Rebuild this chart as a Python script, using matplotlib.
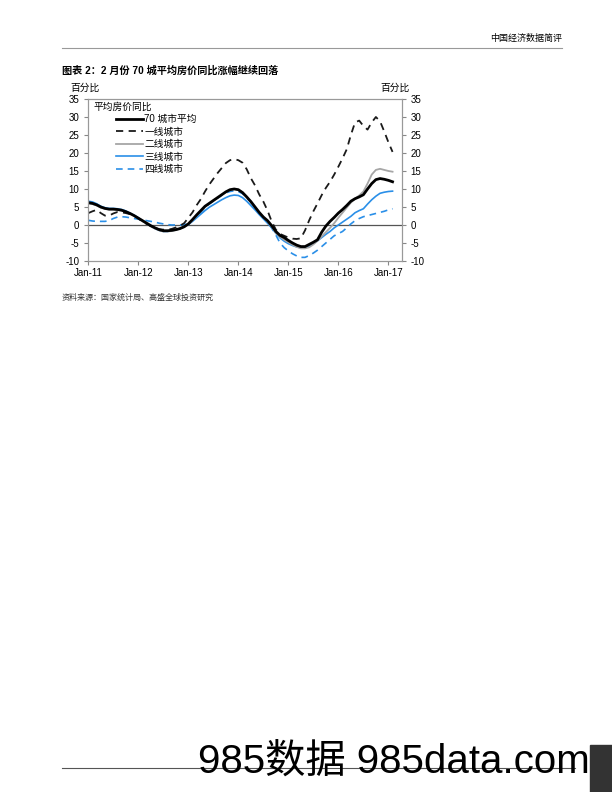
import matplotlib
matplotlib.use("Agg")
import matplotlib.pyplot as plt
import numpy as np

plt.rcParams['font.family'] = ['Liberation Sans', 'Noto Sans CJK SC', 'DejaVu Sans']
plt.rcParams['axes.unicode_minus'] = False

# monthly data, Jan-11 .. Feb-17 (YoY %)
avg70 = [6.2, 6.0, 5.6, 5.0, 4.6, 4.4, 4.4, 4.3, 4.1, 3.7, 3.2, 2.6,
         1.9, 1.2, 0.5, -0.2, -0.8, -1.3, -1.6, -1.6, -1.5, -1.3, -1.0, -0.5,
         0.3, 1.5, 2.8, 4.0, 5.2, 6.0, 6.8, 7.6, 8.4, 9.2, 9.8, 10.0,
         9.8, 9.0, 7.8, 6.5, 5.0, 3.5, 2.2, 1.2, -0.2, -1.8, -2.9, -3.5,
         -4.3, -5.0, -5.6, -6.0, -6.0, -5.4, -4.8, -4.1, -2.0, -0.3, 1.0, 2.1,
         3.3, 4.3, 5.4, 6.6, 7.3, 7.8, 8.4, 10.0, 11.5, 12.6, 12.9, 12.7,
         12.4, 12.0]
tier1 = [3.3, 3.8, 4.2, 3.3, 2.6, 2.6, 3.2, 3.6, 3.5, 3.3, 3.0, 2.6,
         1.8, 1.0, 0.3, -0.3, -0.8, -1.2, -1.3, -1.3, -1.1, -0.7, -0.2, 0.5,
         2.0, 3.5, 5.5, 7.2, 9.3, 11.2, 12.8, 14.4, 15.8, 17.2, 18.0, 18.3,
         18.0, 17.3, 15.5, 13.0, 11.0, 8.5, 6.5, 4.0, 1.0, -1.3, -2.5, -3.0,
         -3.5, -3.8, -3.9, -3.7, -1.5, 1.3, 3.8, 6.0, 8.3, 10.3, 12.0, 14.0,
         16.2, 18.5, 21.0, 25.0, 28.5, 29.0, 27.5, 26.5, 28.5, 30.0, 28.8, 26.0,
         23.0, 20.3]
tier2 = [6.0, 5.8, 5.4, 4.8, 4.5, 4.3, 4.3, 4.2, 4.0, 3.6, 3.1, 2.5,
         1.8, 1.0, 0.3, -0.4, -1.0, -1.5, -1.8, -1.8, -1.7, -1.4, -1.0, -0.5,
         0.2, 1.3, 2.6, 3.8, 5.0, 5.9, 6.7, 7.5, 8.3, 9.1, 9.7, 10.0,
         9.8, 9.1, 7.9, 6.5, 5.0, 3.5, 2.1, 1.0, -0.5, -2.2, -3.3, -4.1,
         -4.8, -5.5, -6.1, -6.5, -6.5, -6.2, -5.4, -4.4, -3.2, -2.0, -0.8, 0.5,
         2.0, 3.4, 4.8, 6.2, 7.3, 8.2, 9.3, 11.5, 14.0, 15.3, 15.6, 15.3,
         15.0, 14.8]
tier3 = [6.6, 6.4, 5.9, 5.2, 4.8, 4.6, 4.6, 4.5, 4.3, 3.9, 3.3, 2.7,
         2.0, 1.2, 0.4, -0.3, -1.0, -1.5, -1.8, -1.8, -1.6, -1.3, -1.0, -0.5,
         0.1, 1.0, 2.0, 3.0, 4.0, 4.9, 5.6, 6.3, 7.0, 7.6, 8.1, 8.3,
         8.2, 7.6, 6.6, 5.4, 4.2, 2.9, 1.7, 0.5, -0.8, -2.3, -3.6, -4.5,
         -5.2, -5.7, -6.1, -6.3, -6.3, -5.9, -5.2, -4.4, -3.5, -2.6, -1.8, -0.8,
         0.0, 0.8, 1.6, 2.4, 3.4, 4.0, 4.5, 5.8, 7.0, 8.0, 8.8, 9.1,
         9.3, 9.4]
tier4 = [1.3, 1.1, 1.0, 1.0, 1.0, 1.2, 1.8, 2.2, 2.3, 2.2, 2.0, 1.8,
         1.6, 1.4, 1.2, 1.0, 0.8, 0.5, 0.3, 0.1, 0.0, 0.0, 0.0, 0.1,
         0.4, 1.2, 2.3, 3.5, 4.8, 5.8, 6.6, 7.4, 8.2, 8.9, 9.3, 9.5,
         9.3, 8.7, 7.6, 6.3, 4.9, 3.5, 2.2, 1.0, -0.8, -2.8, -5.0, -6.3,
         -7.2, -8.0, -8.6, -9.0, -9.0, -8.5, -7.8, -7.0, -6.0, -5.0, -4.0, -3.0,
         -2.4, -1.8, -0.8, 0.3, 1.2, 1.8, 2.3, 2.6, 2.9, 3.2, 3.5, 3.8,
         4.2, 4.5]

labels = ['70 城市平均', '一线城市', '二线城市', '三线城市', '四线城市']
xtick_labels = ['Jan-11', 'Jan-12', 'Jan-13', 'Jan-14', 'Jan-15', 'Jan-16', 'Jan-17']

months = np.arange(len(avg70))

fig = plt.figure(figsize=(6.12, 7.92), dpi=100)
ax = fig.add_axes([0.1443, 0.6705, 0.5121, 0.2045])

blue = '#2A8FE8'
ax.axhline(0, color='#555555', lw=0.9, zorder=1)
ax.plot(months, tier4, color=blue, lw=1.2, ls=(0, (4, 3)), label=labels[4])
ax.plot(months, tier3, color=blue, lw=1.2, label=labels[3])
ax.plot(months, tier2, color='#A6A6A6', lw=1.3, label=labels[2])
ax.plot(months, tier1, color='#1a1a1a', lw=1.3, ls=(0, (4, 3)), label=labels[1])
ax.plot(months, avg70, color='black', lw=2.0, label=labels[0])

ax.set_xlim(0, 75.2)
ax.set_ylim(-10, 35)
ax.set_yticks(np.arange(-10, 36, 5))
ax.set_xticks(np.arange(0, 73, 12))
ax.set_xticklabels(xtick_labels)
ax.tick_params(axis='both', labelsize=7, length=3, color='#888888', direction='out')
ax.tick_params(axis='x', pad=2)
for s in ax.spines.values():
    s.set_color('#999999')
    s.set_linewidth(0.8)

ax2 = ax.twinx()
ax2.set_ylim(-10, 35)
ax2.set_yticks(np.arange(-10, 36, 5))
ax2.tick_params(axis='y', labelsize=7, length=3, color='#888888')
for s in ax2.spines.values():
    s.set_color('#999999')
    s.set_linewidth(0.8)

# legend
h, l = ax.get_legend_handles_labels()
order = [4, 3, 2, 1, 0]
leg = ax.legend([h[i] for i in order], [l[i] for i in order], loc='upper left',
                bbox_to_anchor=(0.075, 0.93), frameon=False, fontsize=7,
                handlelength=2.8, handletextpad=0.15, labelspacing=0.25,
                borderaxespad=0)
ax.text(0.015, 0.985, '平均房价同比', transform=ax.transAxes, fontsize=7,
        va='top', ha='left')

fig.text(70 / 612, 1 - 88 / 792, '百分比', fontsize=7, va='center', ha='left')
fig.text(410 / 612, 1 - 88 / 792, '百分比', fontsize=7, va='center', ha='right')

fig.text(62 / 612, 1 - 71 / 792, '图表 2：2 月份 70 城平均房价同比涨幅继续回落',
         fontsize=7.3, fontweight='bold', va='center', ha='left')
fig.text(62 / 612, 1 - 298 / 792, '资料来源：国家统计局、高盛全球投资研究',
         fontsize=5.8, style='italic', va='center', ha='left', color='#333333')

# header
fig.text(562 / 612, 1 - 38 / 792, '中国经济数据简评', fontsize=6.5,
         va='center', ha='right')
fig.add_artist(plt.Line2D([62 / 612, 562 / 612], [1 - 47.5 / 792] * 2,
                          color='#999999', lw=0.8))

# footer line and watermark
fig.add_artist(plt.Line2D([62 / 612, 575 / 612], [1 - 768 / 792] * 2,
                          color='#555555', lw=0.8))
fig.text(198 / 612, 1 - 762 / 792, '985数据 985data.com', fontsize=29,
         va='center', ha='left', family=['Liberation Sans', 'Noto Sans CJK SC'])
fig.add_artist(plt.Rectangle((590 / 612, 0), 22 / 612, 47 / 792,
                             transform=fig.transFigure, color='#333333'))

fig.savefig('out.png', dpi=100)
